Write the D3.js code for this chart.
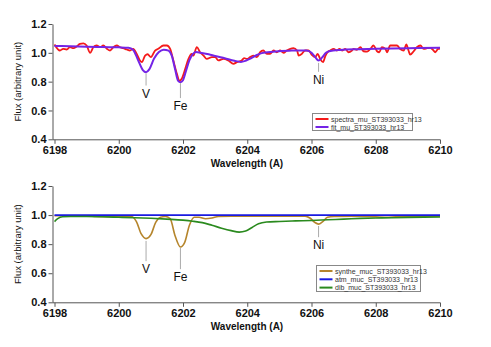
<!DOCTYPE html>
<html><head><meta charset="utf-8">
<script src="https://cdn.jsdelivr.net/npm/d3@7"></script>
<style>
body{margin:0;background:#fff;}
svg{display:block;font-family:"Liberation Sans",Arial,sans-serif;}
</style></head>
<body>
<svg id="c" width="491" height="347"></svg>
<script>
// ---------- data ----------
const xTicks = [6198, 6200, 6202, 6204, 6206, 6208, 6210];
const yTicks = [0.4, 0.6, 0.8, 1.0, 1.2];

const spectraWl = [6198.0,6198.17,6198.27,6198.38,6198.48,6198.59,6198.69,6198.79,6198.9,6199.0,6199.11,6199.21,6199.31,6199.42,6199.52,6199.63,6199.73,6199.83,6199.94,6200.04,6200.14,6200.25,6200.35,6200.45,6200.56,6200.66,6200.72,6200.82,6200.9,6201.0,6201.13,6201.23,6201.39,6201.5,6201.6,6201.7,6201.81,6201.89,6201.96,6202.07,6202.17,6202.27,6202.32,6202.43,6202.53,6202.64,6202.74,6202.9,6203.0,6203.1,6203.26,6203.41,6203.57,6203.68,6203.83,6203.9,6203.99,6204.09,6204.19,6204.3,6204.4,6204.5,6204.61,6204.71,6204.82,6204.92,6205.02,6205.13,6205.23,6205.34,6205.44,6205.55,6205.6,6205.7,6205.8,6205.91,6206.01,6206.12,6206.19,6206.27,6206.36,6206.43,6206.5,6206.58,6206.69,6206.79,6206.87,6206.95,6207.05,6207.15,6207.26,6207.31,6207.41,6207.52,6207.62,6207.73,6207.83,6207.93,6208.04,6208.11,6208.19,6208.3,6208.35,6208.45,6208.55,6208.66,6208.76,6208.87,6208.95,6209.02,6209.07,6209.18,6209.28,6209.39,6209.49,6209.6,6209.7,6209.8,6209.85,6209.94,6210.0];
const spectraFlux = [1.058,1.016,1.028,1.023,1.039,1.032,1.044,1.062,1.066,1.051,1.0,1.039,1.051,1.039,1.051,1.028,1.016,1.039,1.051,1.039,1.032,1.023,1.016,1.028,0.993,0.947,0.935,0.981,0.99,0.97,1.016,1.028,1.051,1.051,1.028,0.947,0.854,0.805,0.82,0.889,0.958,0.993,0.981,1.039,1.004,0.981,0.958,0.97,0.97,0.947,0.958,0.947,0.924,0.935,0.947,0.963,0.958,0.97,0.981,0.97,1.004,1.016,0.993,0.993,1.016,1.004,1.016,1.0,1.016,1.028,1.032,1.016,0.981,0.993,1.016,1.016,0.986,0.97,0.993,0.958,0.935,0.977,1.004,1.016,1.028,1.016,1.028,1.016,1.027,1.004,1.016,1.027,1.021,1.039,1.011,1.009,1.027,1.051,1.011,1.004,1.039,1.027,1.004,1.051,1.051,1.051,1.027,1.016,1.058,1.016,0.988,1.011,1.039,1.051,1.027,1.032,1.035,1.016,1.004,1.027,1.03];

const fitWl = [6198.0,6198.5,6199.0,6199.5,6200.0,6200.3,6200.45,6200.6,6200.75,6200.85,6200.95,6201.1,6201.25,6201.4,6201.55,6201.65,6201.75,6201.85,6201.92,6202.0,6202.1,6202.2,6202.3,6202.4,6202.55,6202.8,6203.0,6203.3,6203.6,6203.8,6203.95,6204.1,6204.3,6204.45,6204.8,6205.3,6205.85,6206.0,6206.1,6206.22,6206.32,6206.45,6206.55,6206.9,6207.5,6208.0,6209.0,6210.0];
const fitFlux = [1.048,1.045,1.043,1.04,1.038,1.035,1.02,0.95,0.88,0.865,0.885,0.96,1.005,1.022,1.015,0.98,0.89,0.805,0.796,0.81,0.88,0.95,0.99,1.005,1.0,0.99,0.978,0.962,0.945,0.937,0.945,0.96,0.985,0.998,1.008,1.015,1.016,1.0,0.975,0.946,0.965,1.0,1.011,1.02,1.025,1.028,1.032,1.035];

const syntheWl = [6198.0,6199.0,6199.3,6199.7,6200.0,6200.4,6200.55,6200.7,6200.85,6201.0,6201.15,6201.3,6201.45,6201.6,6201.75,6201.92,6202.05,6202.2,6202.35,6202.5,6202.7,6202.9,6203.1,6203.5,6204.0,6205.0,6205.8,6205.95,6206.1,6206.22,6206.35,6206.5,6206.7,6207.5,6208.0,6208.4,6208.8,6209.5,6210.0];
const syntheFlux = [0.995,0.995,0.99,0.988,0.993,0.99,0.955,0.87,0.838,0.865,0.95,0.985,0.99,0.975,0.86,0.78,0.81,0.93,0.985,0.985,0.975,0.98,0.99,0.993,0.993,0.993,0.993,0.98,0.95,0.938,0.955,0.985,0.99,0.993,0.988,0.985,0.99,0.993,0.993];

const atmWl = [6198, 6199, 6200, 6201, 6202, 6203, 6204, 6205, 6206, 6207, 6208, 6209, 6210];
const atmFlux = [1.0, 1.0, 1.0, 1.0, 1.0, 1.0, 1.0, 1.0, 1.0, 1.0, 1.0, 1.0, 1.0];

const dibWl = [6198.0,6198.1,6198.25,6198.5,6199.0,6199.5,6200.0,6200.5,6201.0,6201.5,6202.0,6202.3,6202.6,6202.9,6203.2,6203.5,6203.75,6203.95,6204.15,6204.35,6204.6,6205.0,6205.5,6206.0,6206.5,6207.0,6207.5,6208.0,6208.5,6209.0,6209.5,6210.0];
const dibFlux = [0.955,0.975,0.988,0.99,0.99,0.988,0.985,0.982,0.978,0.972,0.965,0.958,0.948,0.93,0.91,0.893,0.883,0.89,0.915,0.94,0.952,0.956,0.96,0.963,0.968,0.972,0.977,0.98,0.982,0.984,0.986,0.987];

const lineNames = ["V", "Fe", "Ni"];
const lineWl = [6200.85, 6201.92, 6206.22];
const topMarkTop = [0.858, 0.79, 0.93];
const topMarkBottom = [0.773, 0.686, 0.868];
const botMarkTop = [0.822, 0.774, 0.925];
const botMarkBottom = [0.683, 0.628, 0.848];

const topLegend = ["spectra_mu_ST393033_hr13", "fit_mu_ST393033_hr13"];
const botLegend = ["synthe_muc_ST393033_hr13", "atm_muc_ST393033_hr13", "dib_muc_ST393033_hr13"];

// ---------- drawing ----------
const svg = d3.select("#c");
const x = d3.scaleLinear().domain([6198, 6210]).range([54.5, 440]);

function zip(a, b){ return a.map((v,i)=>[v,b[i]]); }

function panel(y0, y1, series, names, markTop, markBottom, legend){
  const y = d3.scaleLinear().domain([0.4, 1.2]).range([y1, y0]);
  const g = svg.append("g");
  // x axis
  const xa = g.append("g").attr("transform", `translate(0,${y1+0.5})`)
    .call(d3.axisBottom(x).tickValues(xTicks).tickFormat(d3.format("d")).tickSize(4).tickSizeOuter(0));
  xa.select(".domain").attr("stroke","#555").attr("d", `M52.5,0H440.5`);
  xa.selectAll(".tick line").attr("stroke","#555");
  xa.selectAll("text").attr("font-size", 11).attr("font-weight","bold").attr("fill","#111").attr("dy","0.9em").attr("y",4);
  // y axis
  const ya = g.append("g").attr("transform", `translate(52.5,0)`)
    .call(d3.axisLeft(y).tickValues(yTicks).tickFormat(d3.format(".1f")).tickSize(4).tickSizeOuter(0));
  ya.select(".domain").attr("stroke","#555");
  ya.selectAll(".tick line").attr("stroke","#555");
  ya.selectAll("text").attr("font-size", 11).attr("font-weight","bold").attr("fill","#111").attr("x",-6);
  // titles
  g.append("text").attr("x", 247).attr("y", y1+28).attr("text-anchor","middle")
    .attr("font-size", 10).attr("font-weight","bold").attr("fill","#111").text("Wavelength (A)");
  g.append("text").attr("transform", `translate(21,${(y0+y1)/2}) rotate(-90)`).attr("text-anchor","middle")
    .attr("font-size", 9.5).attr("fill","#111").text("Flux (arbitrary unit)");
  // series
  const clip = "clip"+y0;
  svg.append("clipPath").attr("id", clip).append("rect").attr("x",54).attr("y",y0-20).attr("width",387).attr("height",y1-y0+20);
  const sg = g.append("g").attr("clip-path", `url(#${clip})`);
  series.forEach(s=>{
    const line = d3.line().x(d=>x(d[0])).y(d=>y(d[1])).curve(s.curve);
    sg.append("path").datum(zip(s.wl, s.fl)).attr("d", line)
      .attr("fill","none").attr("stroke", s.color).attr("stroke-width", s.w).attr("stroke-linejoin","round");
  });
  // line markers
  names.forEach((n,i)=>{
    g.append("line").attr("x1", x(lineWl[i])).attr("x2", x(lineWl[i]))
      .attr("y1", y(markTop[i])).attr("y2", y(markBottom[i])).attr("stroke","#aaa").attr("stroke-width",1);
    g.append("text").attr("x", x(lineWl[i])).attr("y", y(markBottom[i])+12).attr("text-anchor","middle")
      .attr("font-size", 12).attr("fill","#111").text(n);
  });
  // legend
  const L = legend;
  const lg = g.append("g");
  lg.append("rect").attr("x", L.x).attr("y", L.y).attr("width", L.w).attr("height", L.h)
    .attr("fill","#fff").attr("stroke","#888").attr("stroke-width",1);
  L.items.forEach((it,i)=>{
    const yy = L.y + 5.5 + i*L.step;
    lg.append("line").attr("x1", L.x+3).attr("x2", L.x+16).attr("y1", yy).attr("y2", yy)
      .attr("stroke", it.color).attr("stroke-width", 2);
    lg.append("text").attr("x", L.x+18.5).attr("y", yy+2.5).attr("font-size", 7).attr("fill","#333").text(it.name);
  });
}

panel(24, 139.3, [
  {wl: spectraWl, fl: spectraFlux, color:"#f41a1a", w:1.8, curve: d3.curveMonotoneX},
  {wl: fitWl, fl: fitFlux, color:"#7424e6", w:2, curve: d3.curveMonotoneX}
], lineNames, topMarkTop, topMarkBottom,
{x:312.5, y:113.5, w:100, h:17, step:8,
 items:[{name:topLegend[0], color:"#f41a1a"},{name:topLegend[1], color:"#7424e6"}]});

panel(186, 302.3, [
  {wl: syntheWl, fl: syntheFlux, color:"#b5852c", w:1.6, curve: d3.curveMonotoneX},
  {wl: atmWl, fl: atmFlux, color:"#1a1ae0", w:1.6, curve: d3.curveMonotoneX},
  {wl: dibWl, fl: dibFlux, color:"#2a8a1e", w:1.6, curve: d3.curveMonotoneX}
], lineNames, botMarkTop, botMarkBottom,
{x:316.5, y:265.5, w:104, h:26, step:8.3,
 items:[{name:botLegend[0], color:"#b5852c"},{name:botLegend[1], color:"#1a1ae0"},{name:botLegend[2], color:"#2a8a1e"}]});
</script>
</body></html>
